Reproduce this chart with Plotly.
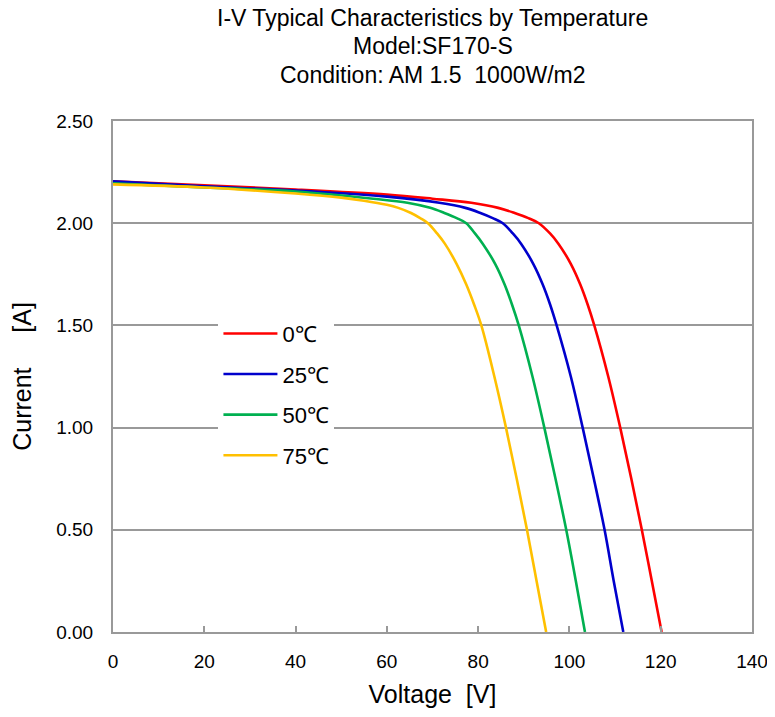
import plotly.graph_objects as go

# Data (Voltage [V], Current [A])
v_0c = [0, 20, 40, 60, 70, 78.5, 84.4, 88.0, 91.0, 93.3, 95.75, 97.58, 100.33, 102.38, 104.03, 105.45, 108.5, 111.13, 113.56, 115.86, 118.05, 120.2]
i_0c = [2.205, 2.185, 2.165, 2.14, 2.12, 2.10, 2.075, 2.05, 2.025, 2.0, 1.95, 1.9, 1.8, 1.7, 1.6, 1.5, 1.25, 1.0, 0.75, 0.5, 0.25, 0.0]

v_25c = [0, 20, 40, 60, 71.5, 77.2, 80.5, 83.2, 85.4, 87.6, 89.4, 92.1, 94.15, 95.8, 97.2, 100.3, 102.9, 105.35, 107.7, 109.7, 111.8]
i_25c = [2.205, 2.18, 2.16, 2.13, 2.10, 2.075, 2.05, 2.025, 2.0, 1.95, 1.9, 1.8, 1.7, 1.6, 1.5, 1.25, 1.0, 0.75, 0.5, 0.25, 0.0]

v_50c = [0, 20, 40, 57, 64.5, 69.5, 72.6, 75.3, 77.4, 79.3, 81.0, 83.75, 85.8, 87.45, 88.9, 91.9, 94.5, 96.95, 99.3, 101.4, 103.4]
i_50c = [2.195, 2.175, 2.155, 2.12, 2.10, 2.075, 2.05, 2.025, 2.0, 1.95, 1.9, 1.8, 1.7, 1.6, 1.5, 1.25, 1.0, 0.75, 0.5, 0.25, 0.0]

v_75c = [0, 20, 40, 50, 55, 60, 62.5, 65.3, 67.3, 69.0, 71.0, 72.7, 75.3, 77.4, 79.15, 80.7, 83.55, 86.1, 88.45, 90.7, 92.8, 94.9]
i_75c = [2.19, 2.175, 2.145, 2.125, 2.11, 2.09, 2.075, 2.05, 2.025, 2.0, 1.95, 1.9, 1.8, 1.7, 1.6, 1.5, 1.25, 1.0, 0.75, 0.5, 0.25, 0.0]

series_names = ["0\u2103", "25\u2103", "50\u2103", "75\u2103"]
series_colors = ["#FF0000", "#0000CC", "#00B050", "#FFC000"]
series_v = [v_0c, v_25c, v_50c, v_75c]
series_i = [i_0c, i_25c, i_50c, i_75c]

x_ticks = [0, 20, 40, 60, 80, 100, 120, 140]
y_ticks = [0.0, 0.5, 1.0, 1.5, 2.0, 2.5]

title_lines = [
    "I-V Typical Characteristics by Temperature",
    "Model:SF170-S",
    "Condition: AM 1.5\u00a0\u00a01000W/m2",
]
title_y = [1.2016, 1.1468, 1.090]

FONT = "Liberation Sans, Arial, sans-serif"

fig = go.Figure()
for name, color, vv, ii in zip(series_names, series_colors, series_v, series_i):
    fig.add_trace(go.Scatter(
        x=vv, y=ii, mode="lines", name=name, legendgroup=name,
        line=dict(color=color, width=2.6, shape="spline", smoothing=1.0),
    ))

# page body adds an ~8px offset; compensate in size/margins
fig.update_layout(
    width=767, height=709,
    margin=dict(l=105, r=23, t=113, b=85),
    paper_bgcolor="white", plot_bgcolor="white",
    font=dict(family=FONT, color="black", size=19),
    showlegend=True,
    legend=dict(
        x=0.165, y=0.625, xanchor="left", yanchor="top",
        bgcolor="white", borderwidth=0,
        font=dict(family=FONT, size=22, color="black"),
        tracegroupgap=9, itemwidth=54,
    ),
)

for txt, yy in zip(title_lines, title_y):
    fig.add_annotation(
        text=txt, x=0.5, xref="paper", y=yy, yref="paper",
        xanchor="center", yanchor="middle", showarrow=False,
        font=dict(family=FONT, size=23, color="black"),
    )

fig.update_xaxes(
    range=[0, 140], tickvals=x_ticks, ticktext=[str(t) for t in x_ticks],
    ticks="inside", ticklen=6, tickwidth=1.5, tickcolor="#999999",
    showgrid=False, zeroline=False,
    showline=True, linecolor="#999999", linewidth=2, mirror=True,
    ticklabelstandoff=11, automargin=False,
    title=dict(text="Voltage\u00a0\u00a0[V]", font=dict(family=FONT, size=25), standoff=15),
)
fig.update_yaxes(
    range=[0, 2.5], tickvals=y_ticks, ticktext=[f"{t:.2f}" for t in y_ticks],
    ticks="", showgrid=True, gridcolor="#999999", gridwidth=2,
    zeroline=False,
    showline=True, linecolor="#999999", linewidth=2, mirror=True,
    ticklabelstandoff=14, automargin=False,
    title=dict(text="Current\u00a0\u00a0\u00a0\u00a0\u00a0[A]", font=dict(family=FONT, size=25), standoff=23),
)

fig.write_html("out.html")
